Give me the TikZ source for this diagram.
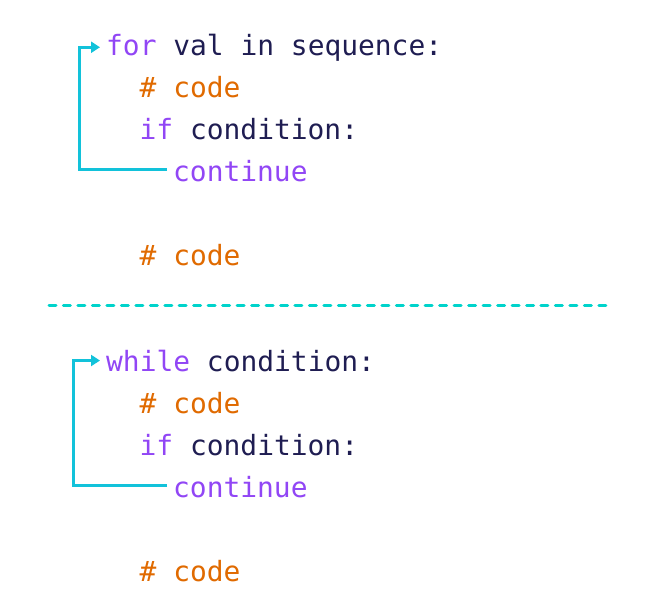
\documentclass[tikz,border=0pt]{standalone}
\usepackage{fontspec}
\setmonofont{DejaVu Sans Mono}
\usetikzlibrary{arrows.meta}
\definecolor{kw}{HTML}{9146F5}
\definecolor{txt}{HTML}{1F1D52}
\definecolor{cmt}{HTML}{E06A00}
\definecolor{arr}{HTML}{12C2DA}
\definecolor{dash}{HTML}{00D3CB}
\tikzset{
  code/.style={anchor=base west, inner sep=0pt, font=\ttfamily\fontsize{27.9}{30}\selectfont},
  loopline/.style={draw=arr, line width=3pt, -{Triangle[length=9pt,width=11pt]}},
  sep/.style={draw=dash, line width=3pt, line cap=round, dash pattern=on 7pt off 7.47pt}
}
\begin{document}
\begin{tikzpicture}[x=1pt,y=-1pt]
\useasboundingbox (0,0) rectangle (654,616);
% first block
\node[code] (f1) at (106,55) {\textcolor{kw}{for} \textcolor{txt}{val in sequence:}};
\node[code] (f2) at (139.5,97) {\textcolor{cmt}{\# code}};
\node[code] (f3) at (139.5,139) {\textcolor{kw}{if} \textcolor{txt}{condition:}};
\node[code] (f4) at (173,181) {\textcolor{kw}{continue}};
\node[code] (f5) at (139.5,265) {\textcolor{cmt}{\# code}};
\coordinate (k1) at (79,169);
\draw[loopline] ([xshift=-6pt]f4.west |- k1) -- (k1) |- ([xshift=-6pt]f1.west);
% separator
\coordinate (s1) at (49,305);
\coordinate (s2) at (606,305);
\draw[sep] (s1) -- (s2);
% second block
\node[code] (w1) at (106,371) {\textcolor{kw}{while} \textcolor{txt}{condition:}};
\node[code] (w2) at (139.5,413) {\textcolor{cmt}{\# code}};
\node[code] (w3) at (139.5,455) {\textcolor{kw}{if} \textcolor{txt}{condition:}};
\node[code] (w4) at (173,497) {\textcolor{kw}{continue}};
\node[code] (w5) at (139.5,581) {\textcolor{cmt}{\# code}};
\coordinate (k2) at (73,485);
\draw[loopline] ([xshift=-6pt]w4.west |- k2) -- (k2) |- ([xshift=-6pt]w1.west);
\end{tikzpicture}
\end{document}
